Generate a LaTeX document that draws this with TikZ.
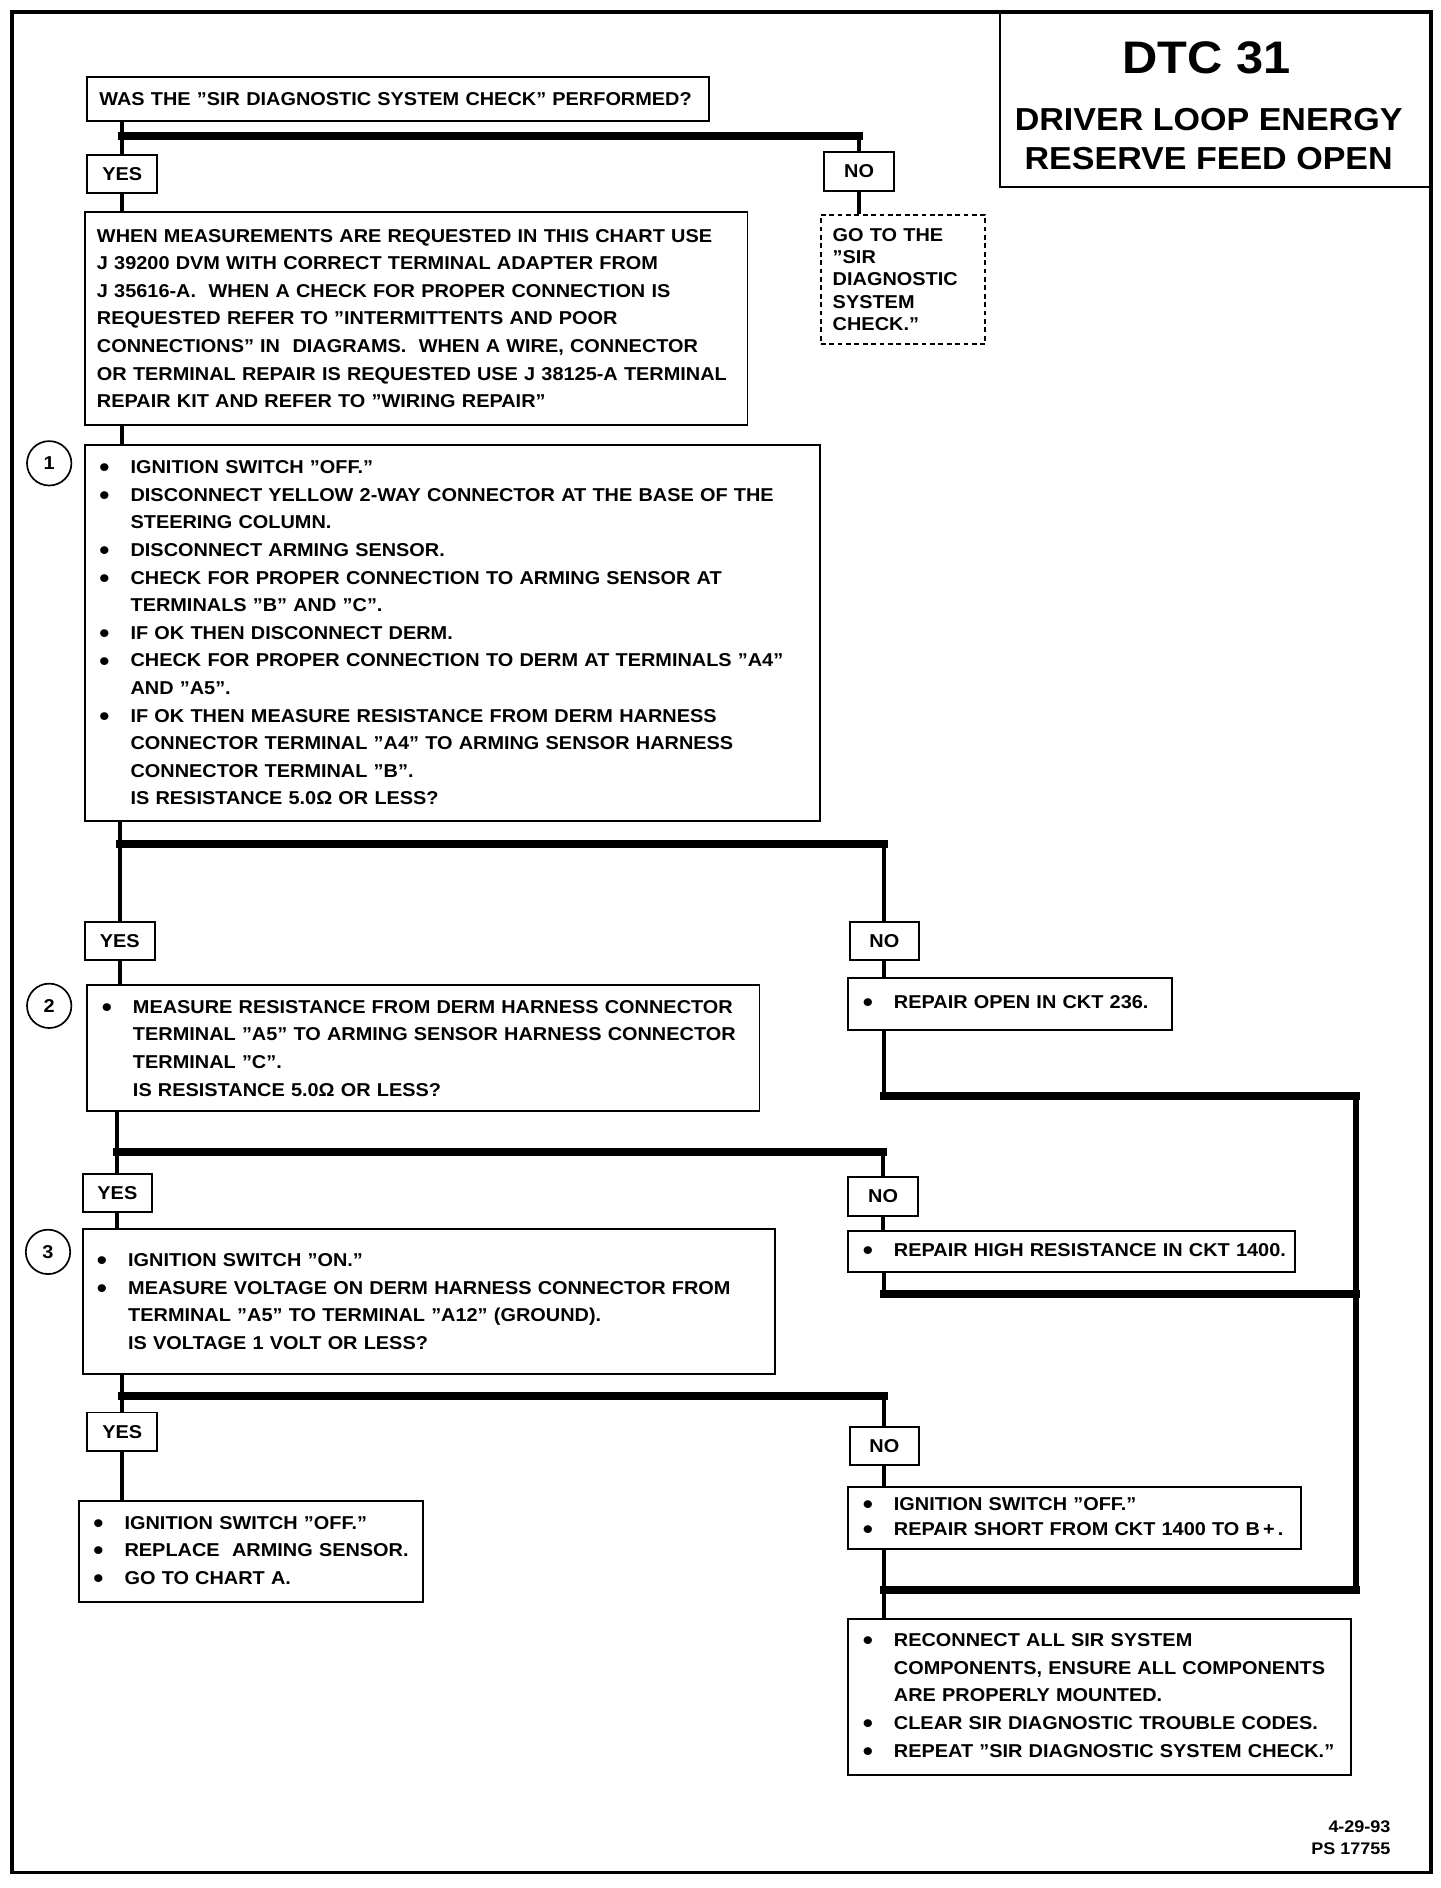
\documentclass[tikz,border=0pt]{standalone}
\usepackage{fontspec}
\setmainfont{Liberation Sans}[FakeStretch=1.07]
\usetikzlibrary{positioning,calc}

\newcommand{\bl}[1]{\makebox[28pt][l]{\hspace{2pt}\raisebox{-2.6pt}{\scalebox{1.45}{\textbullet}}}\mbox{#1}}
\newcommand{\cl}[1]{\hspace*{28pt}\mbox{#1}}
\newcommand{\tx}[1]{\mbox{#1}}

\begin{document}
\begin{tikzpicture}[x=1pt, y=-1pt,
    box/.style={draw, line width=1.6pt, anchor=north west, align=left,
      inner xsep=10pt, inner ysep=3pt, font=\bfseries\fontsize{15.5}{23}\selectfont},
    tag/.style={draw, line width=1.6pt, anchor=north west, minimum width=58pt,
      minimum height=32pt, inner sep=0pt, font=\bfseries\fontsize{15.5}{18}\selectfont},
    num/.style={circle, draw, line width=1.4pt, minimum size=37pt, inner sep=0pt,
      font=\bfseries\fontsize{15.5}{18}\selectfont},
    wire/.style={line width=3.5pt},
    bus/.style={line width=6.5pt, line cap=rect},
    rail/.style={line width=5pt, line cap=rect},
]
    \useasboundingbox (0,0) rectangle (1200,1573);
    \draw[line width=3pt] (10,10) rectangle (1192,1560);

    % title block
    \node[draw, line width=2pt, anchor=north west, minimum width=360pt, minimum height=145pt] (title) at (832,10) {};
    \node[font=\bfseries\fontsize{38}{40}\selectfont] (dtc) at (1005,48) {DTC 31};
    \node[font=\bfseries\fontsize{26.5}{28}\selectfont] (name1) at (1007,100) {DRIVER LOOP ENERGY};
    \node[font=\bfseries\fontsize{26.5}{28}\selectfont] (name2) at (1007,132) {RESERVE FEED OPEN};

    % first question
    \node[box, text width=498pt, minimum height=37pt] (q0) at (72,63) {WAS THE "SIR DIAGNOSTIC SYSTEM CHECK" PERFORMED?};
    \node[tag] (yes0) at (72,128) {YES};
    \node[tag] (no0) at (686,126) {NO};
    \node[box, dashed, dash pattern=on 4pt off 3pt, text width=117pt, minimum height=108pt,
      font=\bfseries\fontsize{15.5}{18.5}\selectfont] (goto) at (683,178)
      {GO TO THE\\"SIR\\DIAGNOSTIC\\SYSTEM\\CHECK."};
    \node[box, text width=532pt, minimum height=177pt] (info) at (70,176) {%
      \tx{WHEN MEASUREMENTS ARE REQUESTED IN THIS CHART USE}\\
      \tx{J 39200 DVM WITH CORRECT TERMINAL ADAPTER FROM}\\
      \tx{J 35616-A.\ \ WHEN A CHECK FOR PROPER CONNECTION IS}\\
      \tx{REQUESTED REFER TO "INTERMITTENTS AND POOR}\\
      \tx{CONNECTIONS" IN\ \ DIAGRAMS.\ \ WHEN A WIRE, CONNECTOR}\\
      \tx{OR TERMINAL REPAIR IS REQUESTED USE J 38125-A TERMINAL}\\
      \tx{REPAIR KIT AND REFER TO "WIRING REPAIR"}};

    % step 1
    \node[num] (c1) at (41,386) {1};
    \node[box, text width=592pt, minimum height=313pt] (box1) at (70,370) {%
      \bl{IGNITION SWITCH "OFF."}\\
      \bl{DISCONNECT YELLOW 2-WAY CONNECTOR AT THE BASE OF THE}\\
      \cl{STEERING COLUMN.}\\
      \bl{DISCONNECT ARMING SENSOR.}\\
      \bl{CHECK FOR PROPER CONNECTION TO ARMING SENSOR AT}\\
      \cl{TERMINALS "B" AND "C".}\\
      \bl{IF OK THEN DISCONNECT DERM.}\\
      \bl{CHECK FOR PROPER CONNECTION TO DERM AT TERMINALS "A4"}\\
      \cl{AND "A5".}\\
      \bl{IF OK THEN MEASURE RESISTANCE FROM DERM HARNESS}\\
      \cl{CONNECTOR TERMINAL "A4" TO ARMING SENSOR HARNESS}\\
      \cl{CONNECTOR TERMINAL "B".}\\
      \cl{IS RESISTANCE 5.0Ω OR LESS?}};
    \node[tag] (yes1) at (70,767) {YES};
    \node[tag] (no1) at (707,767) {NO};
    \node[box, text width=250pt, minimum height=43pt] (repopen) at (706,814) {\bl{REPAIR OPEN IN CKT 236.}};

    % step 2
    \node[num] (c2) at (41,838) {2};
    \node[box, text width=540pt, minimum height=105pt] (box2) at (72,820) {%
      \bl{MEASURE RESISTANCE FROM DERM HARNESS CONNECTOR}\\
      \cl{TERMINAL "A5" TO ARMING SENSOR HARNESS CONNECTOR}\\
      \cl{TERMINAL "C".}\\
      \cl{IS RESISTANCE 5.0Ω OR LESS?}};
    \node[tag] (yes2) at (68,977) {YES};
    \node[tag] (no2) at (706,980) {NO};
    \node[box, text width=352pt, minimum height=34pt] (rephigh) at (706,1025) {\bl{REPAIR HIGH RESISTANCE IN CKT 1400.}};

    % step 3
    \node[num] (c3) at (40,1043) {3};
    \node[box, text width=557pt, minimum height=121pt] (box3) at (68,1023) {%
      \bl{IGNITION SWITCH "ON."}\\
      \bl{MEASURE VOLTAGE ON DERM HARNESS CONNECTOR FROM}\\
      \cl{TERMINAL "A5" TO TERMINAL "A12" (GROUND).}\\
      \cl{IS VOLTAGE 1 VOLT OR LESS?}};
    \node[tag] (yes3) at (72,1176) {YES};
    \node[tag] (no3) at (707,1188) {NO};
    \node[box, text width=267pt, minimum height=84pt] (finyes) at (65,1250) {%
      \bl{IGNITION SWITCH "OFF."}\\
      \bl{REPLACE\ \ ARMING SENSOR.}\\
      \bl{GO TO CHART A.}};
    \node[box, text width=357pt, minimum height=52pt] (finno) at (706,1238) {%
      \bl{IGNITION SWITCH "OFF."}\\[-2pt]
      \bl{REPAIR SHORT FROM CKT 1400 TO B\,+\,.}};
    \node[box, text width=399pt, minimum height=130pt] (final) at (706,1348) {%
      \bl{RECONNECT ALL SIR SYSTEM}\\
      \cl{COMPONENTS, ENSURE ALL COMPONENTS}\\
      \cl{ARE PROPERLY MOUNTED.}\\
      \bl{CLEAR SIR DIAGNOSTIC TROUBLE CODES.}\\
      \bl{REPEAT "SIR DIAGNOSTIC SYSTEM CHECK."}};

    \node[anchor=east, font=\bfseries\fontsize{14}{16}\selectfont] (date) at (1162,1522) {4-29-93};
    \node[anchor=east, font=\bfseries\fontsize{14}{16}\selectfont] (ps) at (1162,1540) {PS 17755};

    % bus levels
    \coordinate (b0) at (0,113);
    \coordinate (b1) at (0,703);
    \coordinate (b2) at (0,960);
    \coordinate (b3) at (0,1163);
    \coordinate (r0) at (1130,913);
    \coordinate (r1) at (1130,1078);
    \coordinate (r2) at (1130,1325);

    % connectors, left column
    \draw[wire] (q0.south -| yes0) -- (yes0.north);
    \draw[bus] (yes0 |- b0) -- (no0 |- b0);
    \draw[wire] (no0 |- b0) -- (no0.north);
    \draw[wire] (no0.south) -- (no0.south |- goto.north);
    \draw[wire] (yes0.south) -- (yes0.south |- info.north);
    \draw[wire] (info.south -| yes0) -- (box1.north -| yes0);

    \draw[wire] (box1.south -| yes1) -- (yes1.north);
    \draw[bus] (yes1 |- b1) -- (no1 |- b1);
    \draw[wire] (no1 |- b1) -- (no1.north);
    \draw[wire] (no1.south) -- (no1.south |- repopen.north);
    \draw[wire] (yes1.south) -- (yes1.south |- box2.north);

    \draw[wire] (box2.south -| yes2) -- (yes2.north);
    \draw[bus] (yes2 |- b2) -- (no2 |- b2);
    \draw[wire] (no2 |- b2) -- (no2.north);
    \draw[wire] (no2.south) -- (no2.south |- rephigh.north);
    \draw[wire] (yes2.south) -- (yes2.south |- box3.north);

    \draw[wire] (box3.south -| yes3) -- (yes3.north);
    \draw[bus] (yes3 |- b3) -- (no3 |- b3);
    \draw[wire] (no3 |- b3) -- (no3.north);
    \draw[wire] (no3.south) -- (no3.south |- finno.north);
    \draw[wire] (yes3.south) -- (yes3.south |- finyes.north);

    % repairs join on the right
    \draw[wire] (repopen.south -| no1) -- (no1 |- r0);
    \draw[bus] (no1 |- r0) -- (r0);
    \draw[wire] (rephigh.south -| no1) -- (no1 |- r1);
    \draw[bus] (no1 |- r1) -- (r1);
    \draw[rail] (r0) -- (r2);
    \draw[bus] (no3 |- r2) -- (r2);
    \draw[wire] (finno.south -| no3) -- (final.north -| no3);
\end{tikzpicture}
\end{document}
